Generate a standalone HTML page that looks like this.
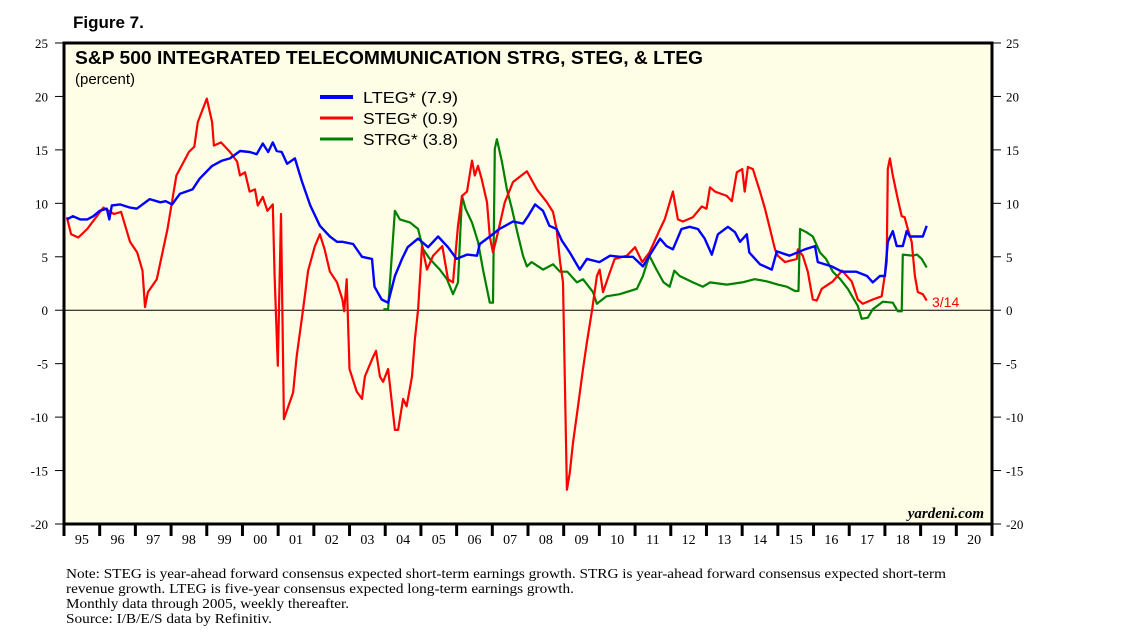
<!DOCTYPE html>
<html><head><meta charset="utf-8">
<style>
body{margin:0;background:#fff;width:1138px;height:633px;overflow:hidden}
svg{display:block}
.sans{font-family:"Liberation Sans",Arial,sans-serif}
.serif{font-family:"Liberation Serif","Times New Roman",serif}
</style></head>
<body>
<svg id="chart" width="1138" height="633" viewBox="0 0 1138 633">
<text x="73" y="28" class="sans" font-size="17" font-weight="bold">Figure 7.</text>
<rect x="64" y="43" width="928" height="481" fill="#fefee6"/>
<g id="grid"></g>
<g id="series"></g>
<rect x="64" y="43" width="928" height="481" fill="none" stroke="#000" stroke-width="3"/>
<text x="75" y="64" class="sans" font-size="18" font-weight="bold" textLength="628" lengthAdjust="spacingAndGlyphs">S&amp;P 500 INTEGRATED TELECOMMUNICATION STRG, STEG, &amp; LTEG</text>
<text x="75" y="84" class="sans" font-size="15">(percent)</text>
<g>
<line x1="320" y1="97" x2="353" y2="97" stroke="#0000ff" stroke-width="4"/>
<text x="363" y="103" class="sans" font-size="16" textLength="95" lengthAdjust="spacingAndGlyphs">LTEG* (7.9)</text>
<line x1="320" y1="118" x2="353" y2="118" stroke="#ff0000" stroke-width="3"/>
<text x="363" y="124" class="sans" font-size="16" textLength="95" lengthAdjust="spacingAndGlyphs">STEG* (0.9)</text>
<line x1="320" y1="139" x2="353" y2="139" stroke="#008000" stroke-width="3"/>
<text x="363" y="145" class="sans" font-size="16" textLength="95" lengthAdjust="spacingAndGlyphs">STRG* (3.8)</text>
</g>
<text x="932" y="307" class="sans" font-size="14" fill="#ff0000">3/14</text>
<text x="984" y="518" class="serif" font-size="15" font-weight="bold" font-style="italic" text-anchor="end">yardeni.com</text>
<g class="serif" font-size="14">
<text x="66" y="578" textLength="880" lengthAdjust="spacingAndGlyphs">Note: STEG is year-ahead forward consensus expected short-term earnings growth. STRG is year-ahead forward consensus expected short-term</text>
<text x="66" y="593" textLength="508" lengthAdjust="spacingAndGlyphs">revenue growth. LTEG is five-year consensus expected long-term earnings growth.</text>
<text x="66" y="608" textLength="283" lengthAdjust="spacingAndGlyphs">Monthly data through 2005, weekly thereafter.</text>
<text x="66" y="623" textLength="206" lengthAdjust="spacingAndGlyphs">Source: I/B/E/S data by Refinitiv.</text>
</g>
</svg>
<script>
const yTicks=[25,20,15,10,5,0,-5,-10,-15,-20];
const xYears=["95","96","97","98","99","00","01","02","03","04","05","06","07","08","09","10","11","12","13","14","15","16","17","18","19","20"];
const stegT=[1995.08,1995.2,1995.4,1995.65,1995.9,1996.1,1996.4,1996.6,1996.85,1997.05,1997.2,1997.27,1997.35,1997.6,1997.9,1998.15,1998.5,1998.65,1998.75,1999.0,1999.15,1999.2,1999.4,1999.65,1999.85,1999.93,2000.07,2000.2,2000.35,2000.43,2000.57,2000.7,2000.85,2000.9,2000.99,2001.08,2001.16,2001.42,2001.52,2001.7,2001.84,2002.03,2002.17,2002.3,2002.45,2002.65,2002.8,2002.85,2002.92,2003.0,2003.2,2003.35,2003.43,2003.63,2003.74,2003.85,2003.94,2004.08,2004.27,2004.36,2004.5,2004.6,2004.75,2004.83,2004.92,2005.03,2005.17,2005.34,2005.6,2005.76,2005.9,2006.04,2006.15,2006.29,2006.43,2006.51,2006.6,2006.7,2006.85,2006.93,2007.02,2007.16,2007.35,2007.58,2007.97,2008.25,2008.53,2008.7,2008.8,2008.9,2008.98,2009.09,2009.17,2009.26,2009.4,2009.54,2009.65,2009.8,2009.93,2010.01,2010.1,2010.3,2010.43,2010.77,2011.0,2011.2,2011.4,2011.7,2011.83,2011.92,2012.06,2012.2,2012.34,2012.62,2012.87,2013.0,2013.1,2013.24,2013.57,2013.71,2013.85,2014.0,2014.07,2014.16,2014.3,2014.5,2014.64,2014.78,2014.92,2015.0,2015.2,2015.53,2015.56,2015.7,2015.84,2015.98,2016.09,2016.23,2016.54,2016.8,2017.07,2017.24,2017.38,2017.66,2017.91,2018.05,2018.08,2018.14,2018.22,2018.36,2018.47,2018.55,2018.64,2018.75,2018.84,2018.92,2019.06,2019.17];
const stegV=[8.7,7.1,6.8,7.6,8.7,9.6,9.0,9.2,6.4,5.4,3.7,0.3,1.7,2.9,7.6,12.6,14.8,15.3,17.6,19.8,17.6,15.4,15.7,14.8,13.9,12.6,12.9,11.1,11.3,9.8,10.6,9.3,9.9,3.2,-5.2,9.0,-10.2,-7.7,-4.3,0.1,3.7,6.0,7.1,5.7,3.6,2.6,1.0,-0.1,2.9,-5.5,-7.6,-8.3,-6.2,-4.6,-3.8,-6.2,-6.7,-5.5,-11.2,-11.2,-8.3,-9.0,-6.2,-2.7,0.1,6.0,3.8,5.1,6.0,2.9,2.6,7.9,10.7,11.1,14.0,12.6,13.5,12.3,10.1,6.9,5.4,7.3,10.1,12.0,13.0,11.3,10.1,9.2,7.6,4.5,2.6,-16.8,-15.2,-12.4,-9.0,-5.5,-3.0,0.1,3.2,3.8,1.7,3.6,4.8,5.1,5.9,4.5,5.4,7.6,8.5,9.5,11.1,8.5,8.3,8.7,9.7,9.5,11.5,11.1,10.7,10.2,12.9,13.2,11.1,13.4,13.2,11.1,9.5,7.6,5.7,5.1,4.5,4.8,5.7,5.1,3.6,1.0,0.9,2.0,2.7,3.7,2.7,1.0,0.6,1.0,1.3,4.5,13.2,14.2,12.6,10.4,8.8,8.7,7.6,6.4,3.2,1.7,1.5,0.9];
const ltegT=[1995.08,1995.25,1995.45,1995.65,1995.82,1996.0,1996.2,1996.27,1996.34,1996.57,1996.85,1997.04,1997.2,1997.4,1997.7,1997.85,1998.03,1998.25,1998.6,1998.8,1999.15,1999.43,1999.65,1999.93,2000.2,2000.4,2000.57,2000.72,2000.85,2000.96,2001.1,2001.25,2001.47,2001.67,2001.9,2002.17,2002.45,2002.65,2002.8,2003.1,2003.35,2003.63,2003.7,2003.9,2004.08,2004.27,2004.47,2004.63,2004.92,2005.2,2005.48,2005.76,2006.0,2006.29,2006.57,2006.65,2006.93,2007.2,2007.58,2007.86,2008.0,2008.2,2008.42,2008.6,2008.8,2008.95,2009.17,2009.45,2009.65,2010.0,2010.3,2010.57,2010.94,2011.22,2011.4,2011.7,2011.88,2012.06,2012.3,2012.53,2012.76,2012.95,2013.15,2013.32,2013.6,2013.8,2013.94,2014.13,2014.2,2014.5,2014.83,2014.97,2015.33,2015.76,2016.04,2016.12,2016.51,2016.8,2017.2,2017.5,2017.66,2017.86,2018.0,2018.08,2018.22,2018.33,2018.5,2018.61,2018.7,2018.9,2019.06,2019.17];
const ltegV=[8.5,8.8,8.5,8.5,8.8,9.3,9.5,8.5,9.8,9.9,9.6,9.5,9.9,10.4,10.1,10.2,9.9,10.9,11.3,12.3,13.5,14.0,14.2,14.9,14.8,14.6,15.6,14.8,15.7,14.9,14.8,13.7,14.2,12.0,9.8,7.9,6.9,6.4,6.4,6.2,5.0,4.8,2.2,1.0,0.7,3.2,4.8,5.9,6.7,5.9,6.9,5.9,4.8,5.2,5.1,6.2,6.9,7.6,8.3,8.1,8.8,9.9,9.3,7.9,7.6,6.5,5.4,3.8,4.8,4.5,5.1,5.0,5.0,4.1,5.1,6.7,6.0,5.7,7.6,7.8,7.6,6.7,5.2,7.1,7.8,7.3,6.4,7.1,5.4,4.3,3.8,5.5,5.1,5.7,6.0,4.5,4.1,3.6,3.6,3.2,2.6,3.2,3.2,6.4,7.4,6.0,6.0,7.4,6.9,6.9,6.9,7.9];
const strgT=[2003.95,2004.08,2004.27,2004.41,2004.7,2004.92,2005.06,2005.25,2005.53,2005.73,2005.9,2006.04,2006.15,2006.25,2006.43,2006.6,2006.74,2006.93,2007.02,2007.07,2007.13,2007.27,2007.41,2007.55,2007.7,2007.86,2007.97,2008.1,2008.42,2008.7,2008.9,2009.1,2009.37,2009.54,2009.82,2009.93,2010.2,2010.57,2011.05,2011.22,2011.4,2011.6,2011.8,2011.97,2012.1,2012.25,2012.62,2012.9,2013.1,2013.57,2014.0,2014.35,2014.7,2015.0,2015.25,2015.48,2015.58,2015.62,2015.8,2015.98,2016.18,2016.35,2016.54,2016.75,2016.96,2017.24,2017.35,2017.52,2017.66,2017.94,2018.22,2018.36,2018.47,2018.5,2018.78,2018.9,2019.03,2019.17];
const strgV=[0.1,0.1,9.3,8.5,8.2,7.6,5.7,4.8,3.8,2.9,1.5,2.6,10.7,9.5,8.2,6.4,3.8,0.7,0.7,15.1,16.0,13.9,11.3,9.5,7.3,5.1,4.1,4.5,3.8,4.3,3.6,3.6,2.6,2.9,1.7,0.6,1.3,1.5,2.0,3.2,5.1,3.8,2.6,2.2,3.7,3.2,2.6,2.2,2.6,2.4,2.6,2.9,2.7,2.4,2.2,1.8,1.8,7.6,7.3,6.9,5.4,4.8,3.6,2.9,2.0,0.4,-0.8,-0.7,0.1,0.8,0.7,-0.1,-0.1,5.2,5.1,5.2,4.8,4.0];

const NS="http://www.w3.org/2000/svg";
const L=64,R=992,T=43,B=524;
function xPos(t){return L+(t-1995)*(R-L)/26;}
function yPos(v){return T+(25-v)*(B-T)/45;}
const grid=document.getElementById('grid');
const svg=document.getElementById('chart');
function mk(tag,attrs,parent){const e=document.createElementNS(NS,tag);for(const k in attrs)e.setAttribute(k,attrs[k]);parent.appendChild(e);return e;}

yTicks.forEach(v=>{
  const y=yPos(v);
  const tl=mk('line',{x1:55,x2:L,y1:y,y2:y,stroke:'#000','stroke-width':1},svg);
  
  
  const tr=mk('line',{x1:R,x2:1001,y1:y,y2:y,stroke:'#000','stroke-width':1},svg);
  
  
  const a=mk('text',{x:48,y:y+5,'text-anchor':'end','font-size':13,class:'serif'},svg);
  a.textContent=v;
  
  
  const b=mk('text',{x:1006,y:y+5,'text-anchor':'start','font-size':13,class:'serif'},svg);
  b.textContent=v;
  
  
});
const z=mk('line',{x1:L,x2:R,y1:yPos(0),y2:yPos(0),stroke:'#000','stroke-width':1},grid);


for(let i=0;i<=xYears.length;i++){
  const x=xPos(1995+i);
  const tk=mk('line',{x1:x,x2:x,y1:B,y2:B+12,stroke:'#000','stroke-width':3},svg);
  
  
}
xYears.forEach((lab,i)=>{
  const t=mk('text',{x:xPos(1995.5+i),y:544,'text-anchor':'middle','font-size':14,class:'serif'},svg);
  t.textContent=lab;
  
  
});
const sg=document.getElementById('series');
function line(ts,vs,color,w,name){
  const d=ts.map((t,i)=>(i?'L':'M')+xPos(t).toFixed(1)+' '+yPos(vs[i]).toFixed(1)).join(' ');
  const p=mk('path',{d:d,fill:'none',stroke:color,'stroke-width':w,'stroke-linejoin':'round'},sg);
  
  
}
line(strgT,strgV,'#008000',2.2,'strg-line');
line(stegT,stegV,'#ff0000',2.2,'steg-line');
line(ltegT,ltegV,'#0000ff',2.4,'lteg-line');
</script>
</body></html>
